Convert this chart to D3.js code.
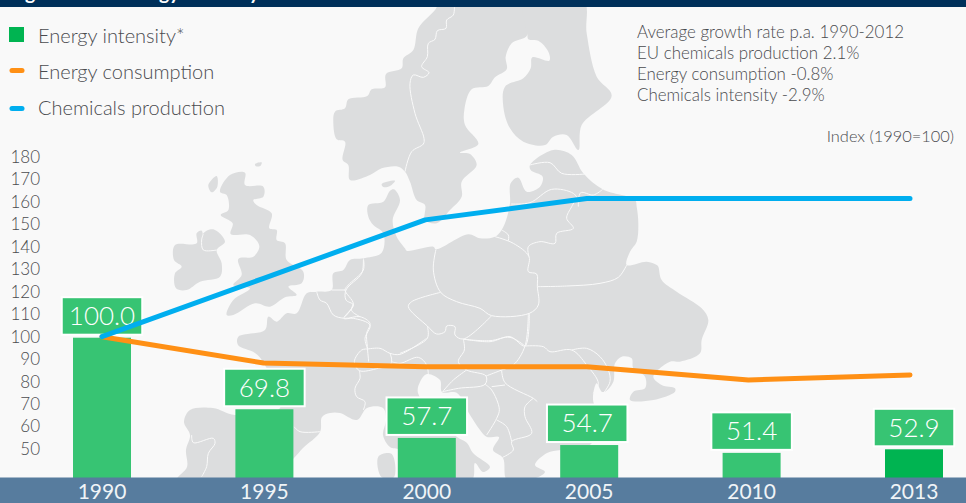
<!DOCTYPE html>
<html><head><meta charset="utf-8">
<style>html,body{margin:0;padding:0;background:#f9f9f9}svg{display:block}text{font-family:Lato,"Open Sans",sans-serif;font-weight:300}</style>
<script src="https://cdn.jsdelivr.net/npm/d3@7"></script></head><body><div id="c"></div>
<script>
const years = ["1990","1995","2000","2005","2010","2013"];
const energyIntensity = [100.0,69.8,57.7,54.7,51.4,52.9];
const energyConsumption = [100,88.3,86.6,86.6,80.7,83];
const chemicalsProduction = [100,126,152,161.5,161.5,161.5];
const axisTicks = [50,60,70,80,90,100,110,120,130,140,150,160,170,180];
const legendLabels = ["Energy intensity*","Energy consumption","Chemicals production"];
const noteLines = ["Average growth rate p.a. 1990-2012","EU chemicals production 2.1%","Energy consumption -0.8%","Chemicals intensity -2.9%"];
const indexLabel = "Index (1990=100)";
const titleText = "Figure 5: EU energy intensity";

const W=966,H=503;
const svg=d3.select("#c").append("svg").attr("width",W).attr("height",H);
svg.append("rect").attr("width",W).attr("height",H).attr("fill","#f9f9f9");

const seg=(ox,oy,p)=>p.map(([x,y])=>[ox+x/3,oy+y/3]);
const mapLand=[
 // Norway + Sweden
 seg(320,0,[[350,0],[350,22],[295,85],[280,150],[250,175],[245,205],[198,222],[195,262],[155,268],[142,288],[85,298],[75,325],[45,335],[40,370],[50,418],[75,425],[68,480],[85,495],[90,540],[150,525],[185,505],[235,500],[255,515],[270,545],[290,600],[315,615],[315,660],[350,670],[390,630],[425,590],[425,545],[470,495],[450,462],[420,458],[475,432],[435,375],[433,330],[455,268],[505,258],[525,232],[560,208],[557,170],[575,130],[622,105],[612,0]]),
 // Finland + NW Russia
 seg(320,0,[[612,0],[622,100],[625,118],[655,122],[685,155],[688,182],[637,172],[632,205],[610,235],[555,260],[550,320],[570,385],[610,425],[675,435],[700,410],[740,405],[775,450],[785,375],[875,287],[830,230],[800,100],[790,0]]),
 // Great Britain
 seg(170,160,[[150,95],[180,45],[225,38],[225,75],[280,80],[280,110],[250,120],[260,135],[305,160],[298,205],[320,210],[320,240],[345,250],[350,300],[400,335],[395,370],[355,380],[380,405],[345,412],[300,440],[255,430],[190,465],[170,465],[190,420],[240,385],[190,375],[215,345],[205,297],[250,290],[268,258],[240,225],[182,222],[188,190],[152,165],[175,150],[170,105]]),
 // Ireland
 seg(170,160,[[15,255],[80,250],[80,220],[95,212],[100,240],[100,220],[130,208],[165,245],[140,270],[155,310],[150,350],[90,365],[50,390],[18,385],[15,340],[35,320],[12,300]]),
 // Small islands
 seg(170,160,[[115,75],[140,48],[142,80],[125,97]]),
 seg(170,160,[[255,12],[275,7],[272,17],[258,19]]),
 seg(170,160,[[635,72],[675,62],[660,78],[640,81]]),
 seg(340,350,[[115,320],[155,312],[162,382],[125,382]]),
 // Continent
 [].concat(
  seg(170,160,[[205,530],[285,510],[295,470],[320,485],[350,460],[380,460],[410,400],[440,395],[485,390],[490,340],[520,330],[540,300],[580,295],[635,278],[640,220],[610,195],[595,170],[595,135],[640,125],[660,92],[672,88],[690,120],[668,180],[680,230],[705,265]]),
  seg(400,190,[[20,182],[100,170],[108,178],[205,133],[240,145],[285,140],[305,120],[320,85]]),
  seg(320,0,[[570,610],[572,550],[595,533],[620,575],[660,560],[668,530],[632,510],[630,495],[700,450],[755,465],[790,520],[848,568],[945,600]]),
  seg(400,190,[[710,50],[715,100],[710,155],[690,185],[680,225],[740,215],[770,225]]),
  seg(590,240,[[205,80],[215,120],[260,155],[335,205],[355,240],[335,300],[330,340],[270,365],[240,365],[190,410],[215,435],[255,445],[255,455],[190,480],[120,480],[130,455],[165,445],[165,410],[130,385],[125,355],[95,350],[75,370],[70,425],[45,455],[35,455],[20,430],[10,460],[10,485]]),
  [[600,420],[590,445],[561,450],[547,453],[535,465],[545,472],[530,480],[507,480],[503,458],[493,450],[499,437],[487,437],[480,430],[470,415],[457,393],[442,392],[440,380],[427,374],[420,382],[418,393],[440,420],[457,437],[467,443],[473,453],[490,467],[483,472],[475,463],[472,480],[430,480],[400,450],[390,447],[383,435],[386,420],[383,408],[367,408],[357,420],[340,413],[330,413],[322,417],[320,432],[303,448],[294,458],[270,480],[177,480],[187,467],[186,450],[190,435],[184,422],[190,410],[213,408],[235,415],[280,408],[263,362],[255,353],[238,345]]
 )
];
const mapBorders=[
 seg(320,0,[[403,8],[400,45],[380,60],[378,85],[352,92],[345,118],[325,130],[322,170],[305,200],[327,218],[310,232],[280,225],[270,250],[285,340],[312,415],[310,432],[275,455],[255,515]]),
 seg(170,160,[[100,222],[95,240],[100,270],[140,270]]),
 seg(170,160,[[440,395],[450,420],[470,430],[490,465],[525,475],[570,470],[600,490],[590,520],[592,560],[596,605]]),
 seg(170,160,[[580,295],[580,330],[535,375],[525,390],[550,432],[525,470]]),
 seg(170,160,[[485,390],[525,390]]),
 seg(170,160,[[550,432],[545,452],[570,470]]),
 seg(320,0,[[630,495],[690,488],[725,520],[795,522]]),
 seg(320,0,[[573,612],[630,608],[695,568],[760,580],[775,600]]),
 seg(320,0,[[775,620],[782,578],[820,585],[848,568]]),
 seg(400,190,[[108,178],[100,240],[122,307],[170,335],[240,355],[275,377],[388,370],[415,345],[412,290],[410,252],[385,245],[387,200],[340,160],[285,140]]),
 seg(400,190,[[305,120],[325,135],[325,152]]),
 seg(400,190,[[387,200],[385,170],[420,155],[465,160],[470,130],[520,115],[500,85],[515,50],[530,25]]),
 seg(400,190,[[412,290],[500,288],[600,280],[655,262],[680,225]]),
 seg(400,190,[[122,307],[35,335],[25,350],[82,408],[110,432],[135,425],[140,408],[165,410],[165,435],[190,447],[275,377]]),
 seg(400,190,[[190,447],[270,455],[330,440],[375,468],[388,370]]),
 seg(400,190,[[82,408],[82,445],[0,490]]),
 seg(320,250,[[143,297],[135,265],[150,225],[100,205],[72,205],[100,165],[78,150],[78,120],[125,70],[130,30]]),
 seg(320,250,[[143,297],[180,295],[210,310],[240,313],[320,265]]),
 seg(320,250,[[143,297],[125,300],[103,335],[118,362],[175,355],[210,345],[215,330],[210,310]]),
 seg(320,250,[[118,362],[120,385],[105,415],[110,440],[135,455],[130,480]]),
 seg(320,250,[[215,335],[240,340],[295,322],[320,345],[325,375]]),
 seg(320,250,[[430,268],[433,300],[415,335],[440,360],[498,378],[495,403],[415,415],[368,425]]),
 seg(320,250,[[440,360],[400,390],[368,425]]),
 seg(320,250,[[498,378],[540,362],[580,345],[615,288],[625,190]]),
 seg(320,250,[[430,268],[510,272],[570,262],[615,288]]),
 seg(320,250,[[545,362],[555,398],[640,445],[652,455]]),
 seg(320,250,[[495,403],[515,420],[538,478],[530,505],[500,555]]),
 seg(320,250,[[515,410],[555,405]]),
 seg(320,250,[[640,445],[615,470],[615,500],[635,550],[575,575],[580,600],[548,622]]),
 seg(320,250,[[530,510],[560,530],[575,575]]),
 seg(320,250,[[615,288],[670,290],[690,305],[755,300],[800,345],[835,400],[820,430]]),
 seg(320,250,[[755,300],[800,295],[840,320],[865,360],[870,395],[850,430]]),
 seg(170,320,[[65,345],[70,368],[130,355],[135,370],[115,400],[110,440],[95,470]]),
 seg(170,320,[[372,320],[390,335],[450,335]])
];
const landGen=d3.line().curve(d3.curveCatmullRomClosed.alpha(0.5));
const borderGen=d3.line().curve(d3.curveCatmullRom.alpha(0.5));
const gMap=svg.append("g");
gMap.selectAll("path.land").data(mapLand).join("path").attr("class","land").attr("d",landGen).attr("fill","#dcddde");
gMap.selectAll("path.border").data(mapBorders).join("path").attr("class","border").attr("d",borderGen).attr("fill","none").attr("stroke","#fafafa").attr("stroke-width",1);

// Scales
const barX=d3.scalePoint().domain(years).range([102,914]);
const lineX=d3.scalePoint().domain(years).range([102,910]);
const axisY=d3.scaleLinear().domain([50,180]).range([449,157]);
const barY=d3.scaleLinear().domain([41,100]).range([477.5,337.7]);
const barW=58,boxW=80.5,boxH=37.5;
const GREEN="#37c473",DEEP="#00b451",ORANGE="#ff9015",BLUE="#00aeef",INK="#4a4b4f";

// Header & footer bands
svg.append("rect").attr("width",W).attr("height",7).attr("fill","#00305a");
svg.append("clipPath").attr("id","hd").append("rect").attr("width",W).attr("height",7);
svg.append("text").attr("clip-path","url(#hd)").attr("x",9).attr("y",0).attr("fill","#fff").attr("font-size",19.5).style("font-weight",700).text(titleText);

// Bars
svg.selectAll("rect.bar").data(years).join("rect").attr("class","bar")
 .attr("x",d=>barX(d)-barW/2).attr("width",barW)
 .attr("y",(d,i)=>barY(energyIntensity[i])).attr("height",(d,i)=>barY(41)-barY(energyIntensity[i])+1)
 .attr("fill",(d,i)=>i===years.length-1?DEEP:GREEN);

svg.append("rect").attr("y",477.5).attr("width",W).attr("height",H-477.5).attr("fill","#577c9e");
svg.selectAll("text.yr").data(years).join("text").attr("class","yr")
 .attr("x",d=>barX(d)).attr("y",499).attr("text-anchor","middle").attr("fill","#f0f4f7").attr("font-size",21).style("font-weight",400).text(d=>d);

// Value boxes
const boxShift=d=>d==="2005"?-2:0;
const gBox=svg.selectAll("g.box").data(years).join("g").attr("class","box")
 .attr("transform",(d,i)=>`translate(${barX(d)+boxShift(d)},${barY(energyIntensity[i])-3-boxH})`);
gBox.append("rect").attr("x",-boxW/2).attr("width",boxW).attr("height",boxH).attr("fill",GREEN).attr("stroke","#fff").attr("stroke-width",2);
gBox.append("text").attr("y",boxH/2+9).attr("text-anchor","middle").attr("fill","#fff").attr("font-size",26).style("font-weight",300).text((d,i)=>energyIntensity[i].toFixed(1));

// Axis
const ax=svg.append("g").attr("transform","translate(40,0)").call(d3.axisLeft(axisY).tickValues(axisTicks).tickSize(0).tickPadding(0));
ax.select(".domain").remove();
ax.selectAll("text").attr("font-size",17).attr("fill",INK).style("font-family","Lato,sans-serif").style("font-weight",300);

// Lines
const lineGen=d3.line().x((v,i)=>lineX(years[i])).y(v=>axisY(v));
[[energyConsumption,ORANGE],[chemicalsProduction,BLUE]].forEach(([s,c])=>{
 svg.append("path").attr("d",lineGen(s)).attr("fill","none").attr("stroke",c).attr("stroke-width",5).attr("stroke-linecap","round").attr("stroke-linejoin","round");
});

// Legend
const legendMarkY=[34.5,70.5,108.5],legendTextY=[43,78.5,114.5];
svg.append("rect").attr("x",9).attr("y",27).attr("width",15).attr("height",15).attr("fill",DEEP);
[ORANGE,BLUE].forEach((c,i)=>svg.append("line").attr("x1",12).attr("x2",22).attr("y1",legendMarkY[i+1]).attr("y2",legendMarkY[i+1]).attr("stroke",c).attr("stroke-width",5).attr("stroke-linecap","round"));
svg.selectAll("text.lg").data(legendLabels).join("text").attr("class","lg")
 .attr("x",38).attr("y",(d,i)=>legendTextY[i]).attr("fill",INK).attr("font-size",20).text(d=>d);

// Notes
svg.selectAll("text.nt").data(noteLines).join("text").attr("class","nt")
 .attr("x",637).attr("y",(d,i)=>38+i*21).attr("fill",INK).attr("font-size",16.9).text(d=>d);
svg.append("text").attr("x",954).attr("y",142).attr("text-anchor","end").attr("fill",INK).attr("font-size",16.4).text(indexLabel);
</script></body></html>
